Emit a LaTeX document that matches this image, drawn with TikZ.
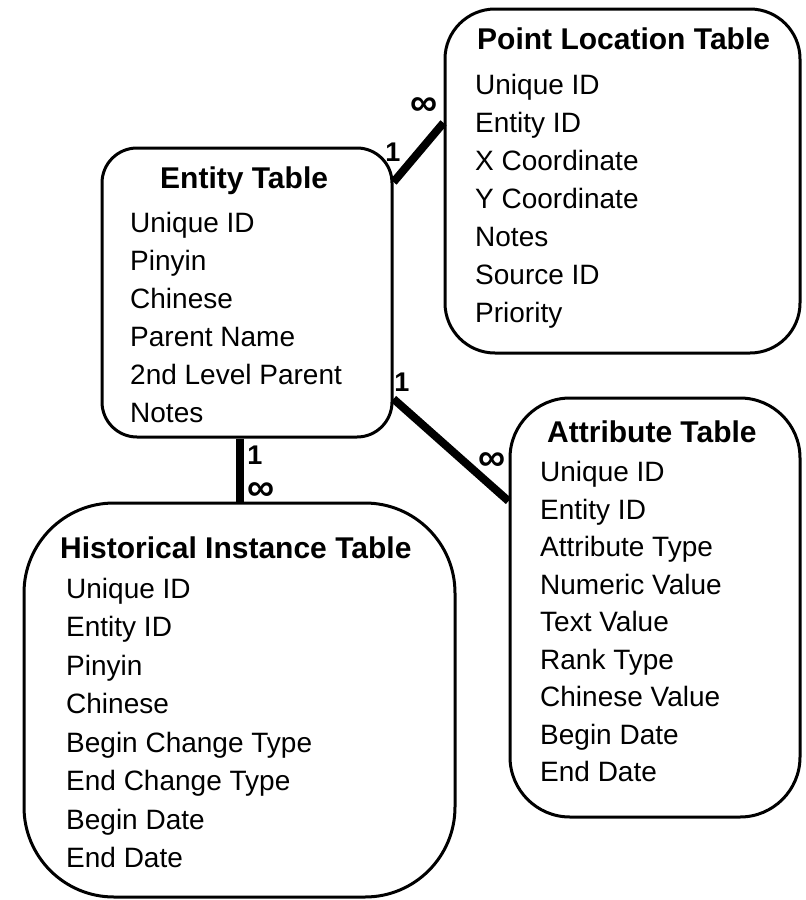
\documentclass[tikz,border=0pt]{standalone}
\usepackage{fontspec}
\setmainfont{Liberation Sans}
\begin{document}
\begin{tikzpicture}[x=1pt, y=-1pt,
        tablebox/.style={draw, line width=3pt, fill=white, inner sep=0pt},
        title/.style={font=\fontsize{30}{36}\selectfont\bfseries, inner sep=0pt, anchor=base west},
        field/.style={font=\fontsize{28}{34}\selectfont, inner sep=0pt, anchor=base west},
        link/.style={line width=8pt},
        card/.style={font=\fontsize{27}{32}\selectfont\bfseries, inner sep=0pt},
        many/.style={font=\fontsize{38}{44}\selectfont\bfseries, inner sep=0pt}]

            \useasboundingbox (0,0) rectangle (806,900);

            % Рамки таблиц
            \node[tablebox, rounded corners=35pt, minimum width=290pt, minimum height=289pt] (entity) at (247,292.5) {};
            \node[tablebox, rounded corners=50pt, minimum width=355pt, minimum height=344pt] (point) at (622.5,181) {};
            \node[tablebox, rounded corners=60pt, minimum width=290pt, minimum height=419pt] (attr) at (655,607.5) {};
            \node[tablebox, rounded corners=90pt, minimum width=431pt, minimum height=394pt] (hist) at (239.5,700) {};

            % Заголовки
            \node[title] (entityT) at (160,188) {Entity Table};
            \node[title] (pointT) at (477,49) {Point Location Table};
            \node[title] (attrT) at (547,442) {Attribute Table};
            \node[title] (histT) at (60,558) {Historical Instance Table};

            % Поля: Entity Table
            \foreach \f [count=\i] in {Unique ID, Pinyin, Chinese, Parent Name, 2nd Level Parent, Notes}
                \node[field] (entityF\i) at (130,194+\i*38) {\f};

            % Поля: Point Location Table
            \foreach \f [count=\i] in {Unique ID, Entity ID, X Coordinate, Y Coordinate, Notes, Source ID, Priority}
                \node[field] (pointF\i) at (475,56+\i*38) {\f};

            % Поля: Attribute Table
            \foreach \f [count=\i] in {Unique ID, Entity ID, Attribute Type, Numeric Value, Text Value, Rank Type, Chinese Value, Begin Date, End Date}
                \node[field] (attrF\i) at (540,444+\i*37.5) {\f};

            % Поля: Historical Instance Table
            \foreach \f [count=\i] in {Unique ID, Entity ID, Pinyin, Chinese, Begin Change Type, End Change Type, Begin Date, End Date}
                \node[field] (histF\i) at (66,559.5+\i*38.5) {\f};

            % Связи
            \draw[link] (entity.37) -- (point.162);
            \draw[link] (entity.-36) -- (attr.144);
            \draw[link] (entity.south -| hist.north) -- (hist.north);

            % Кратности
            \node[card] (pointOne) at (393,152) {1};
            \node[many] (pointMany) at (424,107) {∞};
            \node[card] (attrOne) at (402,382) {1};
            \node[many] (attrMany) at (492,462) {∞};
            \node[card] (histOne) at (255,455) {1};
            \node[many] (histMany) at (261,492) {∞};
        \end{tikzpicture}
\end{document}
